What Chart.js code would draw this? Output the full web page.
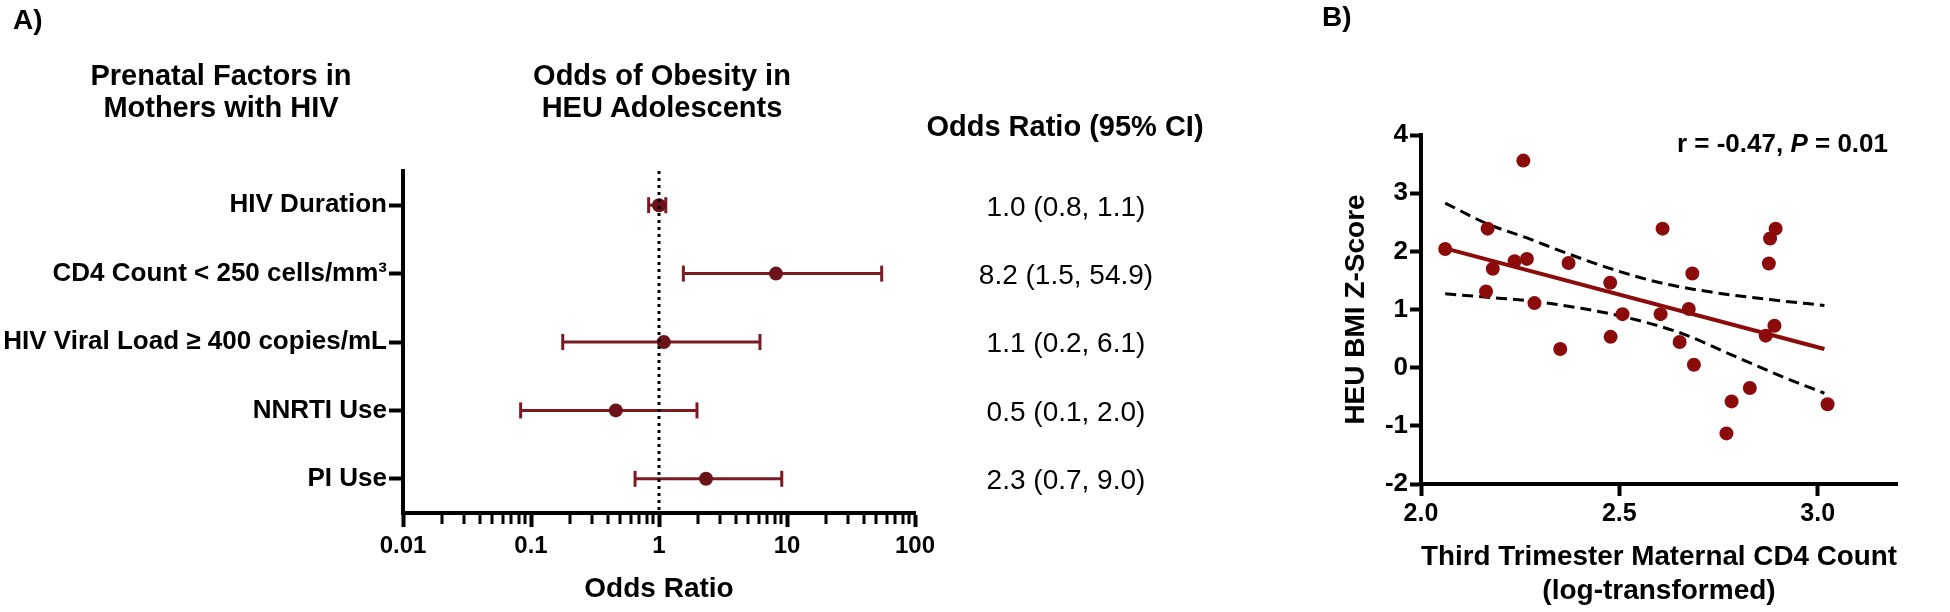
<!DOCTYPE html>
<html>
<head>
<meta charset="utf-8">
<script src="https://cdn.jsdelivr.net/npm/chart.js@4.4.1/dist/chart.umd.min.js"></script>
<style>
html,body{margin:0;padding:0;background:#fff;}
body{width:1950px;height:612px;position:relative;overflow:hidden;font-family:'Liberation Sans',Arial,sans-serif;color:#000;}
canvas{position:absolute;top:0;}
.t{position:absolute;white-space:nowrap;font-family:'Liberation Sans',Arial,sans-serif;color:#000;}
.b{font-weight:bold;}
</style>
</head>
<body>
<canvas id="cA" width="960" height="612" style="left:0;width:960px;height:612px"></canvas>
<canvas id="cB" width="650" height="612" style="left:1300px;width:650px;height:612px"></canvas>

<div class="t b" style="left:13px;top:6px;font-size:28px;line-height:1;">A)</div>
<div class="t b" style="left:1322px;top:3px;font-size:28px;line-height:1;">B)</div>
<div class="t b" style="left:21px;width:400px;top:59px;font-size:29px;line-height:32px;text-align:center;">Prenatal Factors in<br>Mothers with HIV</div>
<div class="t b" style="left:462px;width:400px;top:59px;font-size:29px;line-height:32px;text-align:center;">Odds of Obesity in<br>HEU Adolescents</div>
<div class="t b" style="left:915px;width:300px;top:110px;font-size:29px;line-height:32px;text-align:center;">Odds Ratio (95% CI)</div>
<div class="t b" style="right:62px;top:130px;font-size:26px;line-height:1;">r = -0.47, <i>P</i> = 0.01</div>

<script>
// ---------------- Panel A data ----------------
const categories = ['HIV Duration', 'CD4 Count < 250 cells/mm\u00B3', 'HIV Viral Load \u2265 400 copies/mL', 'NNRTI Use', 'PI Use'];
const oddsRatio = [1.0, 8.2, 1.09, 0.46, 2.33];
const ciLower   = [0.83, 1.55, 0.177, 0.083, 0.65];
const ciUpper   = [1.13, 54.9, 6.15, 1.98, 9.1];
const ciText    = ['1.0 (0.8, 1.1)', '8.2 (1.5, 54.9)', '1.1 (0.2, 6.1)', '0.5 (0.1, 2.0)', '2.3 (0.7, 9.0)'];
const refLineOR = 1;
const xTickValuesA = [0.01, 0.1, 1, 10, 100];
const xTickLabelsA = ['0.01', '0.1', '1', '10', '100'];

// ---------------- Panel B data ----------------
const cd4Log = [2.061, 2.168, 2.181, 2.164, 2.236, 2.267, 2.258, 2.286, 2.372, 2.477, 2.609, 2.684, 2.880, 2.894,
                2.877, 2.508, 2.604, 2.675, 2.351, 2.478, 2.652, 2.688, 2.891, 2.869, 2.783, 2.829, 2.770, 3.025];
const bmiZ   = [2.04, 2.39, 1.70, 1.31, 1.83, 1.87, 3.56, 1.11, 1.80, 1.46, 2.39, 1.62, 2.22, 2.39,
                1.79, 0.92, 0.92, 1.01, 0.32, 0.53, 0.44, 0.05, 0.72, 0.55, -0.58, -0.35, -1.13, -0.63];
const fitX = [2.061, 3.017];
const fitY = [2.05, 0.32];
const upperBandX = [2.061, 2.168, 2.267, 2.370, 2.488, 2.609, 2.741, 2.880, 3.017];
const upperBandY = [2.83, 2.47, 2.23, 1.96, 1.68, 1.45, 1.29, 1.17, 1.07];
const lowerBandX = [2.061, 2.168, 2.286, 2.404, 2.508, 2.657, 2.783, 2.909, 3.017];
const lowerBandY = [1.27, 1.21, 1.14, 1.02, 0.88, 0.59, 0.22, -0.15, -0.44];
const xTicksB = [2.0, 2.5, 3.0];
const yTicksB = [-2, -1, 0, 1, 2, 3, 4];

// ---------------- styling ----------------
Chart.defaults.font.family = "'Liberation Sans', Arial, sans-serif";
Chart.defaults.color = '#000';
const RED_A_LINE = '#7b1a22';
const RED_A_PT = '#6c1219';
const RED_B = '#8b0b0b';

function isMajor(v) {
  const l = Math.log10(v);
  return Math.abs(l - Math.round(l)) < 1e-6;
}
function labelForA(v) {
  for (let i = 0; i < xTickValuesA.length; i++) {
    if (Math.abs(v / xTickValuesA[i] - 1) < 1e-6) return xTickLabelsA[i];
  }
  return '';
}
// full tick list for the log axis (decades + minor ticks 2..9)
const xTicksAll = [];
for (let d = 0; d < xTickValuesA.length - 1; d++) {
  for (let m = 1; m <= 9; m++) xTicksAll.push(m * xTickValuesA[d]);
}
xTicksAll.push(xTickValuesA[xTickValuesA.length - 1]);

const minorTicksPlugin = {
  id: 'minorTicks',
  afterDraw(chart) {
    const s = chart.scales.x;
    const ctx = chart.ctx;
    ctx.save();
    ctx.strokeStyle = '#000';
    ctx.lineWidth = 3;
    ctx.beginPath();
    s.ticks.forEach(t => {
      if (!isMajor(t.value)) {
        const px = Math.round(s.getPixelForValue(t.value));
        ctx.moveTo(px, s.top);
        ctx.lineTo(px, s.top + 11);
      }
    });
    ctx.stroke();
    ctx.restore();
  }
};

const dsA = [];
dsA.push({
  data: [{x: refLineOR, y: 0.5}, {x: refLineOR, y: 5.5}],
  showLine: true, borderColor: '#000', borderWidth: 3, borderDash: [3, 4], pointRadius: 0
});
dsA.push({
  data: categories.map((c, i) => ({x: oddsRatio[i], y: i + 1})),
  pointRadius: 7, pointBackgroundColor: RED_A_PT, pointBorderWidth: 0, showLine: false
});
categories.forEach((c, i) => {
  dsA.push({
    data: [{x: ciLower[i], y: i + 1}, {x: ciUpper[i], y: i + 1}],
    showLine: true, borderColor: RED_A_LINE, borderWidth: 3,
    pointStyle: 'line', pointRotation: 90, pointRadius: 8,
    pointBorderColor: RED_A_LINE, pointBorderWidth: 3
  });
});

const chartA = new Chart(document.getElementById('cA'), {
  type: 'scatter',
  data: {datasets: dsA},
  plugins: [minorTicksPlugin],
  options: {
    responsive: false, animation: false, devicePixelRatio: 1,
    layout: {padding: {left: 0, top: 171, right: 45, bottom: 0}},
    plugins: {legend: {display: false}, tooltip: {enabled: false}},
    events: [],
    scales: {
      x: {
        type: 'logarithmic', min: 0.01, max: 100,
        afterBuildTicks: s => { s.ticks = xTicksAll.map(v => ({value: v, major: isMajor(v)})); },
        afterFit: s => { s.height = 99; },
        ticks: {autoSkip: false, maxRotation: 0, padding: 5, color: '#000',
                font: {size: 24, weight: 'bold'}, callback: v => labelForA(v)},
        grid: {drawOnChartArea: false, drawTicks: true, tickLength: 14,
               tickWidth: c => (c.tick && isMajor(c.tick.value)) ? 4 : 0, tickColor: '#000'},
        border: {display: true, color: '#000', width: 4},
        title: {display: true, text: 'Odds Ratio', color: '#000',
                font: {size: 28, weight: 'bold'}, padding: {top: 0, bottom: 6}}
      },
      y: {
        type: 'linear', min: 0.5, max: 5.5, reverse: true,
        afterBuildTicks: s => { s.ticks = categories.map((c, i) => ({value: i + 1})); },
        afterFit: s => { s.width = 403; },
        ticks: {autoSkip: false, padding: 2, color: '#000', font: {size: 26, weight: 'bold'},
                callback: v => categories[Math.round(v) - 1]},
        grid: {drawOnChartArea: false, drawTicks: true, tickLength: 14, tickWidth: 4, tickColor: '#000'},
        border: {display: true, color: '#000', width: 4}
      }
    }
  }
});

// CI text column, placed on the rows of panel A's y scale
(function () {
  const ys = chartA.scales.y;
  ciText.forEach((txt, i) => {
    const d = document.createElement('div');
    d.className = 't';
    d.style.left = '916px';
    d.style.width = '300px';
    d.style.textAlign = 'center';
    d.style.fontSize = '28px';
    d.style.lineHeight = '1';
    d.style.top = (ys.getPixelForValue(i + 1) - 12.7) + 'px';
    d.textContent = txt;
    document.body.appendChild(d);
  });
})();

// ---------------- Panel B ----------------
const dsB = [
  {data: cd4Log.map((x, i) => ({x: x, y: bmiZ[i]})), pointRadius: 7,
   pointBackgroundColor: RED_B, pointBorderWidth: 0, showLine: false},
  {data: fitX.map((x, i) => ({x: x, y: fitY[i]})), showLine: true, borderColor: RED_B,
   borderWidth: 4, pointRadius: 0},
  {data: upperBandX.map((x, i) => ({x: x, y: upperBandY[i]})), showLine: true, borderColor: '#000',
   borderWidth: 3, borderDash: [11, 6], pointRadius: 0, cubicInterpolationMode: 'monotone'},
  {data: lowerBandX.map((x, i) => ({x: x, y: lowerBandY[i]})), showLine: true, borderColor: '#000',
   borderWidth: 3, borderDash: [11, 6], pointRadius: 0, cubicInterpolationMode: 'monotone'}
];

const chartB = new Chart(document.getElementById('cB'), {
  type: 'scatter',
  data: {datasets: dsB},
  options: {
    responsive: false, animation: false, devicePixelRatio: 1,
    layout: {padding: {left: 0, top: 135, right: 53, bottom: 0}},
    plugins: {legend: {display: false}, tooltip: {enabled: false}},
    events: [],
    scales: {
      x: {
        type: 'linear', min: 2.0, max: 3.2,
        afterBuildTicks: s => { s.ticks = xTicksB.map(v => ({value: v})); },
        afterFit: s => { s.height = 128; },
        ticks: {autoSkip: false, maxRotation: 0, padding: 3, color: '#000',
                font: {size: 25, weight: 'bold'}, callback: v => Number(v).toFixed(1)},
        grid: {drawOnChartArea: false, drawTicks: true, tickLength: 12, tickWidth: 4, tickColor: '#000'},
        border: {display: true, color: '#000', width: 4},
        title: {display: true, text: ['Third Trimester Maternal CD4 Count', '(log-transformed)'], color: '#000',
                font: {size: 28, weight: 'bold'}, padding: {top: 0, bottom: 4}}
      },
      y: {
        type: 'linear', min: -2, max: 4,
        afterBuildTicks: s => { s.ticks = yTicksB.map(v => ({value: v})); },
        afterFit: s => { s.width = 121; },
        ticks: {autoSkip: false, padding: 2, color: '#000', font: {size: 26, weight: 'bold'}},
        grid: {drawOnChartArea: false, drawTicks: true, tickLength: 11, tickWidth: 4, tickColor: '#000'},
        border: {display: true, color: '#000', width: 4},
        title: {display: true, text: 'HEU BMI Z-Score', color: '#000',
                font: {size: 28, weight: 'bold'}, padding: {top: 39, bottom: 0}}
      }
    }
  }
});
</script>
</body>
</html>
